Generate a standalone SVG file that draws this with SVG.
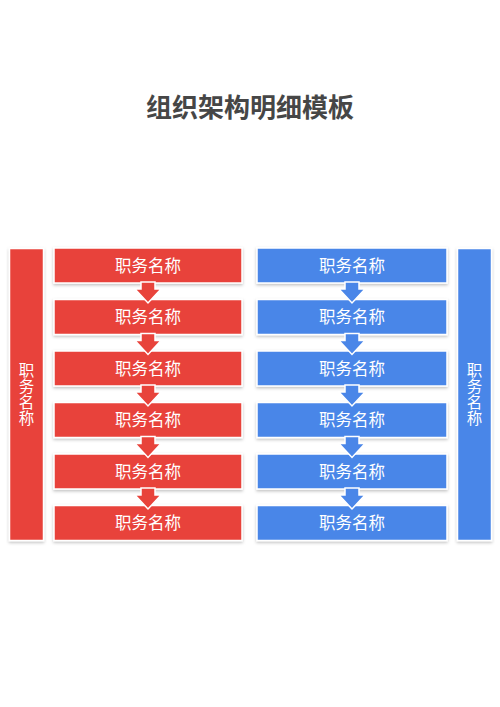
<svg xmlns="http://www.w3.org/2000/svg" xmlns:xlink="http://www.w3.org/1999/xlink" width="500" height="707" viewBox="0 0 500 707">
<defs>
<filter id="sh" x="-10%" y="-20%" width="120%" height="150%">
<feDropShadow dx="0" dy="1.5" stdDeviation="1.5" flood-color="#000" flood-opacity="0.25"/>
</filter>
<path id="arr" d="M-7,0 H7 V7 H13 L0,21 L-13,7 H-7 Z"/>
</defs>
<style>
.t{font-family:"Noto Sans CJK SC","Noto Sans",sans-serif;font-size:16.5px;fill:#fff;text-anchor:middle}
.v{font-family:"Noto Sans CJK SC","Noto Sans",sans-serif;font-size:15.5px;fill:#fff;text-anchor:middle;writing-mode:vertical-rl;letter-spacing:0.5px}
.red{fill:#E8433B;stroke:#fff;stroke-width:1.5;filter:url(#sh)}
.blue{fill:#4A86E8;stroke:#fff;stroke-width:1.5;filter:url(#sh)}
.ar{fill:#E8433B;stroke:#fff;stroke-width:1.5}
.ab{fill:#4A86E8;stroke:#fff;stroke-width:1.5}
.title{font-family:"Noto Sans CJK SC",sans-serif;font-size:26px;font-weight:bold;fill:#464646;text-anchor:middle}
</style>
<rect width="500" height="707" fill="#fff"/>
<text class="title" x="250" y="117">组织架构明细模板</text>

<g id="left-bar"><rect class="red" x="9.5" y="248.5" width="34" height="292"/>
<text class="v" x="26.5" y="394">职务名称</text></g>
<g id="right-bar"><rect class="blue" x="457.5" y="248.5" width="34" height="292"/>
<text class="v" x="474.5" y="394">职务名称</text></g>

<g id="r1"><rect class="red" x="54" y="248" width="188" height="35"/><text class="t" x="148" y="271.5">职务名称</text></g>
<g id="r2"><rect class="red" x="54" y="299.5" width="188" height="35"/><text class="t" x="148" y="323">职务名称</text></g>
<g id="r3"><rect class="red" x="54" y="351" width="188" height="35"/><text class="t" x="148" y="374.5">职务名称</text></g>
<g id="r4"><rect class="red" x="54" y="402.5" width="188" height="35"/><text class="t" x="148" y="426">职务名称</text></g>
<g id="r5"><rect class="red" x="54" y="454" width="188" height="35"/><text class="t" x="148" y="477.5">职务名称</text></g>
<g id="r6"><rect class="red" x="54" y="505.5" width="188" height="35"/><text class="t" x="148" y="529">职务名称</text></g>

<g id="b1"><rect class="blue" x="257" y="248" width="190" height="35"/><text class="t" x="352" y="271.5">职务名称</text></g>
<g id="b2"><rect class="blue" x="257" y="299.5" width="190" height="35"/><text class="t" x="352" y="323">职务名称</text></g>
<g id="b3"><rect class="blue" x="257" y="351" width="190" height="35"/><text class="t" x="352" y="374.5">职务名称</text></g>
<g id="b4"><rect class="blue" x="257" y="402.5" width="190" height="35"/><text class="t" x="352" y="426">职务名称</text></g>
<g id="b5"><rect class="blue" x="257" y="454" width="190" height="35"/><text class="t" x="352" y="477.5">职务名称</text></g>
<g id="b6"><rect class="blue" x="257" y="505.5" width="190" height="35"/><text class="t" x="352" y="529">职务名称</text></g>

<g id="connectors">
<use href="#arr" class="ar" x="148" y="282"/>
<use href="#arr" class="ar" x="148" y="333.5"/>
<use href="#arr" class="ar" x="148" y="385"/>
<use href="#arr" class="ar" x="148" y="436.5"/>
<use href="#arr" class="ar" x="148" y="488"/>
<use href="#arr" class="ab" x="352" y="282"/>
<use href="#arr" class="ab" x="352" y="333.5"/>
<use href="#arr" class="ab" x="352" y="385"/>
<use href="#arr" class="ab" x="352" y="436.5"/>
<use href="#arr" class="ab" x="352" y="488"/>
</g>
</svg>
